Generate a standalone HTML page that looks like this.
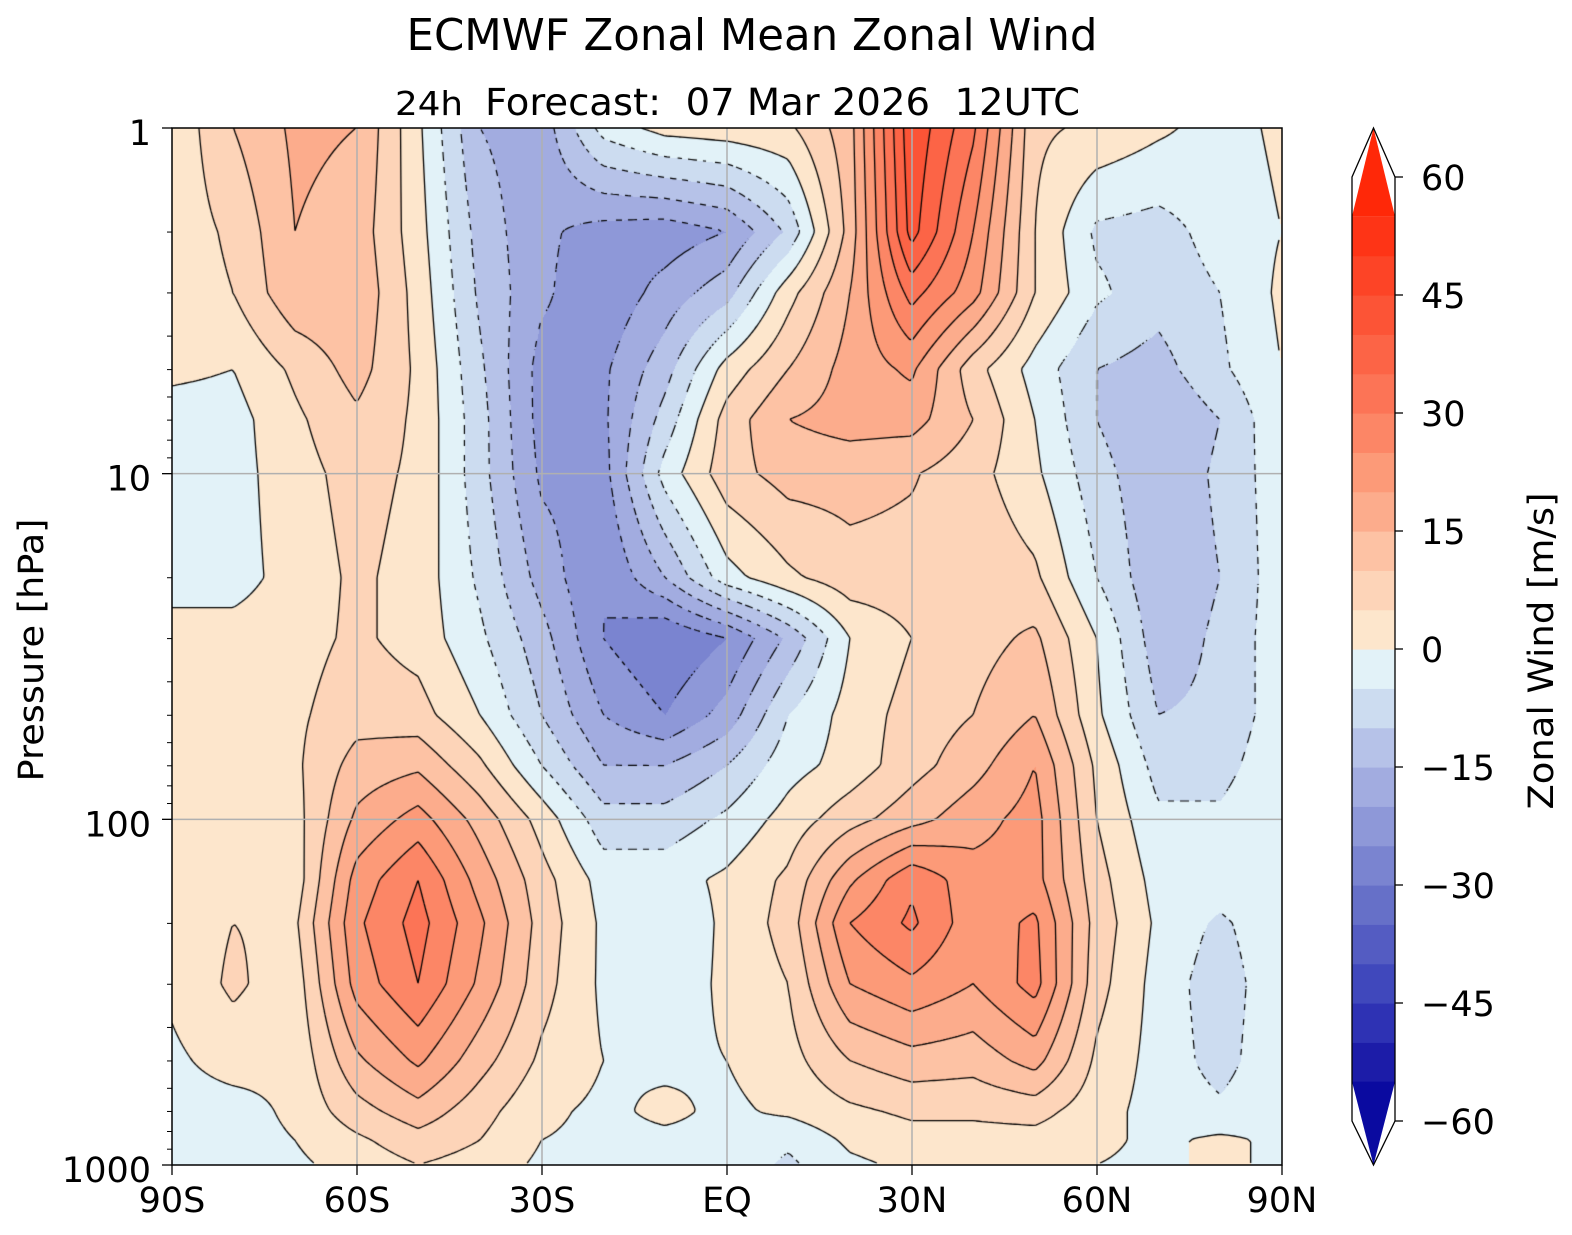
<!DOCTYPE html>
<html><head><meta charset="utf-8"><style>
html,body{margin:0;padding:0;background:#fff;width:1572px;height:1235px;overflow:hidden}
#wrap{position:relative;width:1572px;height:1235px}
canvas{position:absolute;left:172px;top:128px}
svg{position:absolute;left:0;top:0}
text{font-family:"DejaVu Sans","Liberation Sans",sans-serif;fill:#000;white-space:pre}
</style></head><body>
<div id="wrap">
<canvas id="field" width="1110" height="1037"></canvas>
<svg id="svg" width="1572" height="1235"></svg>
</div>
<script>
const lats=[-90,-80,-70,-60,-50,-40,-30,-20,-10,0,10,20,30,40,50,60,70,80,90];
const levels=[1,2,3,5,7,10,20,30,50,70,100,150,200,300,500,700,850,1000];
const u1   =[1,10,16,15,1,-15,-18,-3,2,3,4,13,44,31,6,4,1,-2,1];
const u2   =[2,6,15,13,2,-12,-19,-22,-23,-20,-9,12,42,25,5,-6,-7,-3,0];
const u3   =[2,5,14,14,3,-11,-19,-24,-18,-12,3,15,32,22,5,-4,-8,-5,1];
const u5   =[1,0,6,12,4,-9,-22,-21,-12,2,10,17,21,7,-2,-10,-12,-6,0];
const u7   =[-2,-2,4,9,4,-8,-22,-21,-8,7,15,17,17,10,0,-10,-15,-10,-1];
const u10  =[-2,-2,3,7,4,-8,-21,-22,-3,8,12,12,10.5,7,1,-8,-14,-9,-2];
const u20  =[-2,-2,2,6,3,-6,-17,-25,-15,-2,4,8,8,9,6,-5,-14,-10,-2];
const u30  =[2,2,3,6,3,-4,-13,-25,-30,-25,-14,0,5,8,11,0,-13,-9,-2];
const u50  =[2,3,4,8,7,0,-10,-20,-25,-18,-5,2,7,10,15,1,-10,-9,-2];
const u70  =[1,3,4,12,14,6,-5,-15,-15,-10,-2,2,8,13,20,4,-7,-7,-1];
const u100 =[0,3,3,16,22,13,3,-8,-8,-4,2,8,13,18,22,5,-4,-4,0];
const u150 =[0,3,2,22,30,18,7,-2,-2,1,6,19,29,22,22,7,-2,-2,0];
const u200 =[2,5,4,24,32,21,8,-1,-4,1,7,25,31,22,26,8,-1,-6,-1];
const u300 =[1,6,2,22,30,19,7,-1,-3,1,5,20,24,20,27,7,-2,-8,-1];
const u500 =[-1,2,1,14,21,12,4,0,-1,0,3,10,13,12,17,4,-2,-7,-1];
const u700 =[-2,-2,1,8,13,7,1,-1,1,-1,1,4,6,6,7,2,-2,-4,-1];
const u850 =[-1,-2,0,4,8,5,0,-1,-1,-1,-4,1,3,3,3,1,-1,1,-1];
const u1000=[-1,-2,-1,2,5,3,-1,-2,-1,-2,-6,-1,1,2,1,0,-1,1,-1];
const rows=[u1,u2,u3,u5,u7,u10,u20,u30,u50,u70,u100,u150,u200,u300,u500,u700,u850,u1000];
const cbColors=["#0a0aa0","#1c1ca8","#2e32b4","#4048bc","#545cc2","#6670c8","#7a84d0","#8e98d8","#a2ace0","#b6c2e8","#ccdcf0","#e2f2f8","#fde6cc","#fdd4b8","#fdc2a4","#fcac8c","#fc9a78","#fc8666","#fc7456","#fc6446","#fc5436","#fd4426","#fe3416","#ff2808"];
const cbTicks=[60,45,30,15,0,-15,-30,-45,-60];
const xTickLats=[-90,-60,-30,0,30,60,90];
const xTickLabels=["90S","60S","30S","EQ","30N","60N","90N"];
const yTicks=[1,10,100,1000];

const PX=172,PY=128,PW=1110,PH=1037;
const xOf=lat=>PX+(lat+90)/180*PW;
const yOf=p=>PY+Math.log10(p)/3*PH;
const logL=levels.map(Math.log10);
function val(lat,lp){
  let fi=(lat+90)/10; fi=Math.max(0,Math.min(lats.length-1.0001,fi));
  let i=Math.floor(fi),fx=fi-i;
  let j=0; while(j<logL.length-2&&lp>logL[j+1])j++;
  let fy=(lp-logL[j])/(logL[j+1]-logL[j]); fy=Math.max(0,Math.min(1,fy));
  const a=rows[j][i],b=rows[j][i+1],c=rows[j+1][i],d=rows[j+1][i+1];
  return (a*(1-fx)+b*fx)*(1-fy)+(c*(1-fx)+d*fx)*fy;
}
function hex(h){return [parseInt(h.substr(1,2),16),parseInt(h.substr(3,2),16),parseInt(h.substr(5,2),16)];}
const rgb=cbColors.map(hex);
function colIdx(v){let b=Math.floor(v/5)+12;return Math.max(0,Math.min(23,b));}

const cv=document.getElementById('field'),ctx=cv.getContext('2d');
const img=ctx.createImageData(PW,PH);
const vals=new Float32Array(PW*PH);
for(let y=0;y<PH;y++){const lp=(y+0.5)/PH*3;for(let x=0;x<PW;x++){const lat=-90+(x+0.5)/PW*180;const v=val(lat,lp);vals[y*PW+x]=v;const c=rgb[colIdx(v)];const k=(y*PW+x)*4;img.data[k]=c[0];img.data[k+1]=c[1];img.data[k+2]=c[2];img.data[k+3]=255;}}
ctx.putImageData(img,0,0);

const S=3,nx=Math.floor((PW-1)/S),ny=Math.floor((PH-1)/S);
const g=(i,j)=>vals[Math.min(PH-1,j*S)*PW+Math.min(PW-1,i*S)];
ctx.strokeStyle='#000';ctx.lineWidth=1.3;
const solid=new Path2D(),dash=new Path2D();
for(let j=0;j<ny;j++)for(let i=0;i<nx;i++){
  const a=g(i,j),b=g(i+1,j),c=g(i+1,j+1),d=g(i,j+1);
  const mn=Math.min(a,b,c,d),mx=Math.max(a,b,c,d);
  for(let L=Math.ceil(mn/5)*5;L<mx;L+=5){
    if(L===mn)continue;
    const pts=[];const x0=i*S,y0=j*S;
    const e=(v1,v2,p1,p2)=>{if((v1<L)!==(v2<L)){const t=(L-v1)/(v2-v1);pts.push([p1[0]+(p2[0]-p1[0])*t,p1[1]+(p2[1]-p1[1])*t]);}};
    e(a,b,[x0,y0],[x0+S,y0]);e(b,c,[x0+S,y0],[x0+S,y0+S]);e(c,d,[x0+S,y0+S],[x0,y0+S]);e(d,a,[x0,y0+S],[x0,y0]);
    const path=L<0?dash:solid;
    if(L<0&&Math.floor((x0+y0)/7)%2===1)continue;
    for(let k=0;k+1<pts.length;k+=2){path.moveTo(pts[k][0],pts[k][1]);path.lineTo(pts[k+1][0],pts[k+1][1]);}
  }
}
ctx.stroke(solid);ctx.lineWidth=1.2;ctx.stroke(dash);

const NS='http://www.w3.org/2000/svg',svg=document.getElementById('svg');
function mk(tag,attrs,parent){const el=document.createElementNS(NS,tag);for(const k in attrs)el.setAttribute(k,attrs[k]);(parent||svg).appendChild(el);return el;}
const grid=mk('g',{stroke:'#b0b0b0','stroke-width':1.5});


[-60,-30,0,30,60].forEach(l=>{mk('line',{x1:xOf(l),x2:xOf(l),y1:PY,y2:PY+PH},grid);});
[10,100].forEach(p=>{mk('line',{x1:PX,x2:PX+PW,y1:yOf(p),y2:yOf(p)},grid);});
const frame=mk('rect',{x:PX,y:PY,width:PW,height:PH,fill:'none',stroke:'#000','stroke-width':1.5});


xTickLats.forEach((l,k)=>{
  mk('line',{x1:xOf(l),x2:xOf(l),y1:PY+PH,y2:PY+PH+10,stroke:'#000','stroke-width':1.3});
  const t=mk('text',{x:xOf(l),y:1212,'font-size':35,'text-anchor':'middle'});t.textContent=xTickLabels[k];
  
  
});
yTicks.forEach(p=>{
  mk('line',{x1:PX-10,x2:PX,y1:yOf(p),y2:yOf(p),stroke:'#000','stroke-width':1.3});
  const t=mk('text',{x:151,y:yOf(p)+17,'font-size':35,'text-anchor':'end'});t.textContent=String(p);
  
  
});
for(let d=1;d<1000;d*=10)for(let m=2;m<10;m++)mk('line',{x1:PX-5,x2:PX,y1:yOf(d*m),y2:yOf(d*m),stroke:'#000','stroke-width':1});
const yt=mk('text',{x:0,y:0,'font-size':35,'text-anchor':'middle',textLength:263,lengthAdjust:'spacingAndGlyphs',transform:'translate(43,650) rotate(-90)'});yt.textContent='Pressure [hPa]';


const t1=mk('text',{x:752,y:50,'font-size':44,'text-anchor':'middle',textLength:691,lengthAdjust:'spacingAndGlyphs'});t1.textContent='ECMWF Zonal Mean Zonal Wind';


const t2=mk('text',{x:395,y:115,'font-size':33,textLength:68,lengthAdjust:'spacingAndGlyphs'});t2.textContent='24h';


const t3=mk('text',{x:485,y:115,'font-size':37,textLength:595,lengthAdjust:'spacingAndGlyphs'});t3.textContent='Forecast:\u00a0\u00a007 Mar 2026\u00a0\u00a012UTC';


const CBX=1352,CBW=43,CBT=177,CBB=1121;
const cbY=v=>CBB-(v+60)/120*(CBB-CBT);
const cb=mk('g',{});


cbColors.forEach((c,k)=>{const v=-60+k*5;if(k===0||k===23)return;mk('rect',{x:CBX,y:cbY(v+5),width:CBW,height:cbY(v)-cbY(v+5)+0.6,fill:c},cb);});
mk('polygon',{points:`${CBX},${cbY(55)} ${CBX+CBW/2},128 ${CBX+CBW},${cbY(55)}`,fill:cbColors[23]},cb);
mk('polygon',{points:`${CBX},${cbY(-55)} ${CBX+CBW/2},1165 ${CBX+CBW},${cbY(-55)}`,fill:cbColors[0]},cb);
mk('polygon',{points:`${CBX},${CBT} ${CBX+CBW/2},128 ${CBX+CBW},${CBT} ${CBX+CBW},${CBB} ${CBX+CBW/2},1165 ${CBX},${CBB}`,fill:'none',stroke:'#000','stroke-width':1.3},cb);
cbTicks.forEach(v=>{mk('line',{x1:CBX+CBW,x2:CBX+CBW+8,y1:cbY(v),y2:cbY(v),stroke:'#000','stroke-width':1.3},cb);
  const t=mk('text',{x:1421,y:cbY(v)+13,'font-size':35},cb);t.textContent=v<0?'\u2212'+(-v):String(v);
  
  });
const ct=mk('text',{x:0,y:0,'font-size':35,'text-anchor':'middle',textLength:317,lengthAdjust:'spacingAndGlyphs',transform:'translate(1553,651) rotate(-90)'});ct.textContent='Zonal Wind [m/s]';


</script>
</body></html>
